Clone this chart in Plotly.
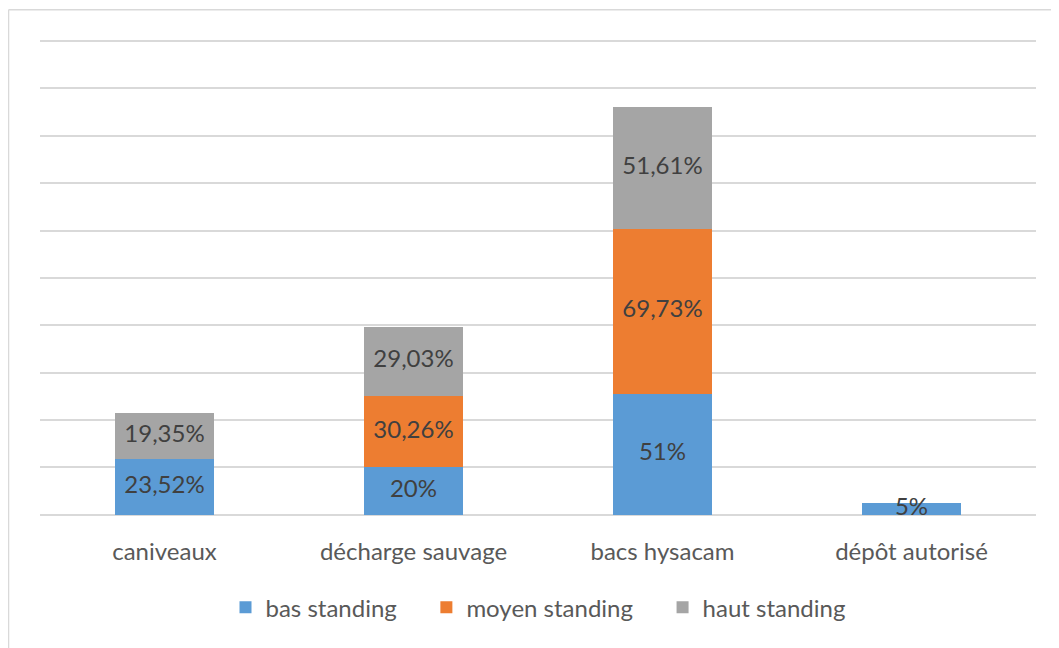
import plotly.graph_objects as go

categories = ["caniveaux", "décharge sauvage", "bacs hysacam", "dépôt autorisé"]
series_names = ["bas standing", "moyen standing", "haut standing"]
bas = [23.52, 20, 51, 5]
moyen = [None, 30.26, 69.73, None]
haut = [19.35, 29.03, 51.61, None]
labels_bas = ["23,52%", "20%", "51%", "5%"]
labels_moyen = [None, "30,26%", "69,73%", None]
labels_haut = ["19,35%", "29,03%", "51,61%", None]
colors = ["#5B9BD5", "#ED7D31", "#A5A5A5"]

FONT = "Lato"
SIZE = 24
PAD = "\u00a0" * 4
fig = go.Figure()
series = [bas, moyen, haut]
labels = [labels_bas, labels_moyen, labels_haut]
for k, (name, vals, col) in enumerate(zip(series_names, series, colors)):
    shown = name + (PAD if k < len(series_names) - 1 else "")
    fig.add_trace(go.Bar(x=categories, y=[v if v is not None else 0 for v in vals],
                         name=shown, marker=dict(color=col, line=dict(width=0)),
                         hoverinfo="skip"))

# label positions: midpoints of stacked segments
base = [0.0] * len(categories)
for vals, labs in zip(series, labels):
    xs, ys, ts = [], [], []
    for i, (v, t) in enumerate(zip(vals, labs)):
        if v is None:
            continue
        xs.append(categories[i]); ys.append(base[i] + v / 2); ts.append(t)
        base[i] += v
    fig.add_trace(go.Scatter(x=xs, y=ys, text=ts, mode="text", showlegend=False,
                             textfont=dict(family=FONT, size=SIZE, color="#404040"),
                             cliponaxis=False, hoverinfo="skip"))

fig.update_layout(
    barmode="stack", bargap=0.6,
    width=1051, height=640,
    margin=dict(l=32, r=23, t=28, b=132),
    paper_bgcolor="white", plot_bgcolor="white",
    font=dict(family=FONT, color="#595959", size=SIZE),
    showlegend=True,
    legend=dict(orientation="h", x=0.5, xanchor="center", y=-0.191, yanchor="middle",
                font=dict(family=FONT, size=SIZE, color="#595959"),
                itemwidth=30, traceorder="normal"),
    xaxis=dict(showgrid=False, showline=False, ticks="", ticklabelstandoff=19,
               tickfont=dict(family=FONT, size=SIZE, color="#595959")),
    yaxis=dict(range=[-0.5, 202.1], dtick=20, showgrid=True, gridcolor="#D9D9D9", gridwidth=1.5,
               showticklabels=False, zeroline=False, showline=False, ticks=""),
    shapes=[
        dict(type="line", xref="paper", yref="paper", x0=-0.0316, x1=1.1, y0=1.0545, y1=1.0545,
             line=dict(color="#D9D9D9", width=1.5), layer="below"),
        dict(type="line", xref="paper", yref="paper", x0=-0.0316, x1=-0.0316, y0=-0.35, y1=1.0545,
             line=dict(color="#D9D9D9", width=1.5), layer="below"),
    ],
)
fig.write_html("out.html")
